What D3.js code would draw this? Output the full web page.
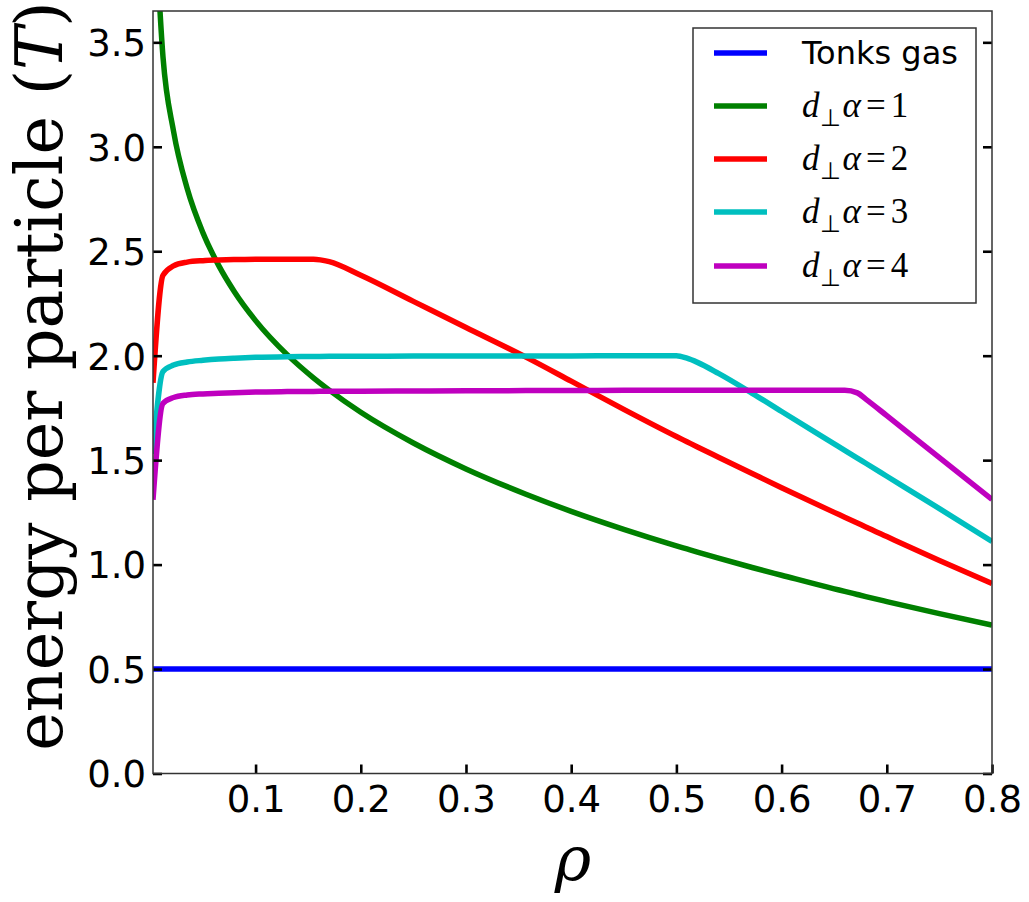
<!DOCTYPE html>
<html>
<head>
<meta charset="utf-8">
<script src="https://cdn.jsdelivr.net/npm/d3@7"></script>
<style>
  body { margin: 0; background: #fff; }
</style>
</head>
<body>
<div id="chart"></div>
<script>
// density grid shared by all curves
const rho = [0.0025, 0.012, 0.022, 0.035, 0.05, 0.065, 0.08, 0.1, 0.13, 0.155, 0.17, 0.2, 0.25, 0.3, 0.357,
    0.4, 0.45, 0.5, 0.51, 0.52, 0.54, 0.572, 0.6, 0.65, 0.66, 0.672, 0.68, 0.7, 0.75, 0.8];

const tonks = rho.map(() => 0.5);
const alpha1 = [4.3, 3.43, 3.075, 2.8, 2.588, 2.431, 2.305, 2.168, 2.005, 1.894, 1.835, 1.729, 1.582, 1.458, 1.337,
    1.255, 1.169, 1.09, 1.075, 1.06, 1.031, 0.986, 0.949, 0.884, 0.872, 0.857, 0.847, 0.823, 0.765, 0.71];
const alpha2 = [1.87, 2.385, 2.43, 2.448, 2.455, 2.458, 2.46, 2.462, 2.462, 2.462, 2.45, 2.385, 2.26, 2.135, 1.993,
    1.878, 1.743, 1.613, 1.588, 1.563, 1.514, 1.436, 1.368, 1.25, 1.227, 1.199, 1.18, 1.134, 1.02, 0.91];
const alpha3 = [1.53, 1.924, 1.955, 1.97, 1.978, 1.984, 1.988, 1.992, 1.995, 1.996, 1.997, 1.997, 1.998, 1.998, 1.999,
    1.999, 2.0, 2.0, 1.988, 1.968, 1.915, 1.82, 1.733, 1.578, 1.547, 1.51, 1.485, 1.423, 1.268, 1.111];
const alpha4 = [1.31, 1.772, 1.8, 1.812, 1.817, 1.82, 1.823, 1.826, 1.828, 1.829, 1.83, 1.83, 1.831, 1.832, 1.833,
    1.833, 1.834, 1.834, 1.834, 1.835, 1.835, 1.835, 1.835, 1.835, 1.835, 1.822, 1.792, 1.713, 1.512, 1.312];

const seriesNames = ["Tonks gas", "1", "2", "3", "4"];
const seriesValues = [tonks, alpha1, alpha2, alpha3, alpha4];
const seriesColors = ["#0000ff", "#008000", "#ff0000", "#00bfbf", "#bf00bf"];

const xTicks = [0.1, 0.2, 0.3, 0.4, 0.5, 0.6, 0.7, 0.8];
const yTicks = [0.0, 0.5, 1.0, 1.5, 2.0, 2.5, 3.0, 3.5];

const width = 1029, height = 902;
const plotLeft = 153, plotRight = 992, plotTop = 11, plotBottom = 773.5;

const svg = d3.select("#chart").append("svg")
    .attr("width", width)
    .attr("height", height);

const x = d3.scaleLinear().domain([0.0025, 0.8]).range([plotLeft, plotRight]);
const y = d3.scaleLinear().domain([0, 3.65]).range([plotBottom, plotTop]);

svg.append("clipPath").attr("id", "clip")
    .append("rect")
    .attr("x", plotLeft).attr("y", plotTop)
    .attr("width", plotRight - plotLeft).attr("height", plotBottom - plotTop);

const line = d3.line()
    .x(d => x(d[0]))
    .y(d => y(d[1]))
    .curve(d3.curveMonotoneX);

const plot = svg.append("g").attr("clip-path", "url(#clip)");
seriesValues.forEach((vals, i) => {
    plot.append("path")
        .datum(rho.map((r, j) => [r, vals[j]]))
        .attr("fill", "none")
        .attr("stroke", seriesColors[i])
        .attr("stroke-width", 5.5)
        .attr("stroke-linejoin", "round")
        .attr("d", line);
});

// axes with inward ticks
const fmt = d3.format(".1f");
const xAxis = svg.append("g")
    .attr("transform", `translate(0,${plotBottom})`)
    .call(d3.axisBottom(x).tickValues(xTicks).tickFormat(fmt).tickSizeInner(-9).tickSizeOuter(0).tickPadding(12));
const yAxis = svg.append("g")
    .attr("transform", `translate(${plotLeft},0)`)
    .call(d3.axisLeft(y).tickValues(yTicks).tickFormat(fmt).tickSizeInner(-9).tickSizeOuter(0).tickPadding(7));
const yAxisR = svg.append("g")
    .attr("transform", `translate(${plotRight},0)`)
    .call(d3.axisRight(y).tickValues(yTicks).tickSizeInner(-9).tickSizeOuter(0).tickFormat(""));

[xAxis, yAxis, yAxisR].forEach(g => {
    g.select(".domain").remove();
    g.selectAll(".tick line").attr("stroke", "#000").attr("stroke-width", 2.6);
    g.selectAll("text")
        .attr("fill", "#000")
        .style("font-family", "DejaVu Sans")
        .style("font-size", "37px");
});
xAxis.selectAll("text").attr("dy", "0.71em");
yAxis.selectAll("text").attr("dy", "0.36em");

// frame
svg.append("rect")
    .attr("x", plotLeft).attr("y", plotTop)
    .attr("width", plotRight - plotLeft).attr("height", plotBottom - plotTop)
    .attr("fill", "none")
    .attr("stroke", "#333")
    .attr("stroke-width", 1.5);

// axis labels
const yLabel = svg.append("text")
    .attr("transform", `translate(62,376) rotate(-90)`)
    .attr("text-anchor", "middle")
    .style("font-family", "DejaVu Serif")
    .style("font-size", "65px")
    .attr("fill", "#000");
yLabel.append("tspan").text("energy per particle (");
yLabel.append("tspan").style("font-style", "italic").text("T");
yLabel.append("tspan").text(")");

svg.append("text")
    .attr("x", 573)
    .attr("y", 880)
    .attr("text-anchor", "middle")
    .style("font-family", "DejaVu Serif")
    .style("font-style", "italic")
    .style("font-size", "62px")
    .attr("fill", "#000")
    .text("ρ");

// legend
const legend = svg.append("g");
legend.append("rect")
    .attr("x", 693).attr("y", 28)
    .attr("width", 283).attr("height", 275)
    .attr("fill", "#fff")
    .attr("stroke", "#333")
    .attr("stroke-width", 1.5);

const rowY = [53, 106, 159, 212, 266];
seriesNames.forEach((name, i) => {
    legend.append("line")
        .attr("x1", 714).attr("x2", 767)
        .attr("y1", rowY[i]).attr("y2", rowY[i])
        .attr("stroke", seriesColors[i])
        .attr("stroke-width", 5.5);
    if (i === 0) {
        legend.append("text")
            .attr("x", 802).attr("y", rowY[i] + 11)
            .style("font-family", "DejaVu Sans")
            .style("font-size", "32px")
            .text(name);
    } else {
        const t = legend.append("text")
            .attr("x", 802).attr("y", rowY[i] + 11)
            .style("font-family", "Liberation Serif")
            .style("font-size", "35px");
        t.append("tspan").style("font-style", "italic").text("d");
        t.append("tspan").attr("dy", 9).style("font-size", "24px").text("⊥");
        t.append("tspan").attr("dy", -9).attr("dx", 2).style("font-style", "italic").text("α");
        t.append("tspan").attr("dx", 5).text("=");
        t.append("tspan").attr("dx", 5).text(name);
    }
});
</script>
</body>
</html>
